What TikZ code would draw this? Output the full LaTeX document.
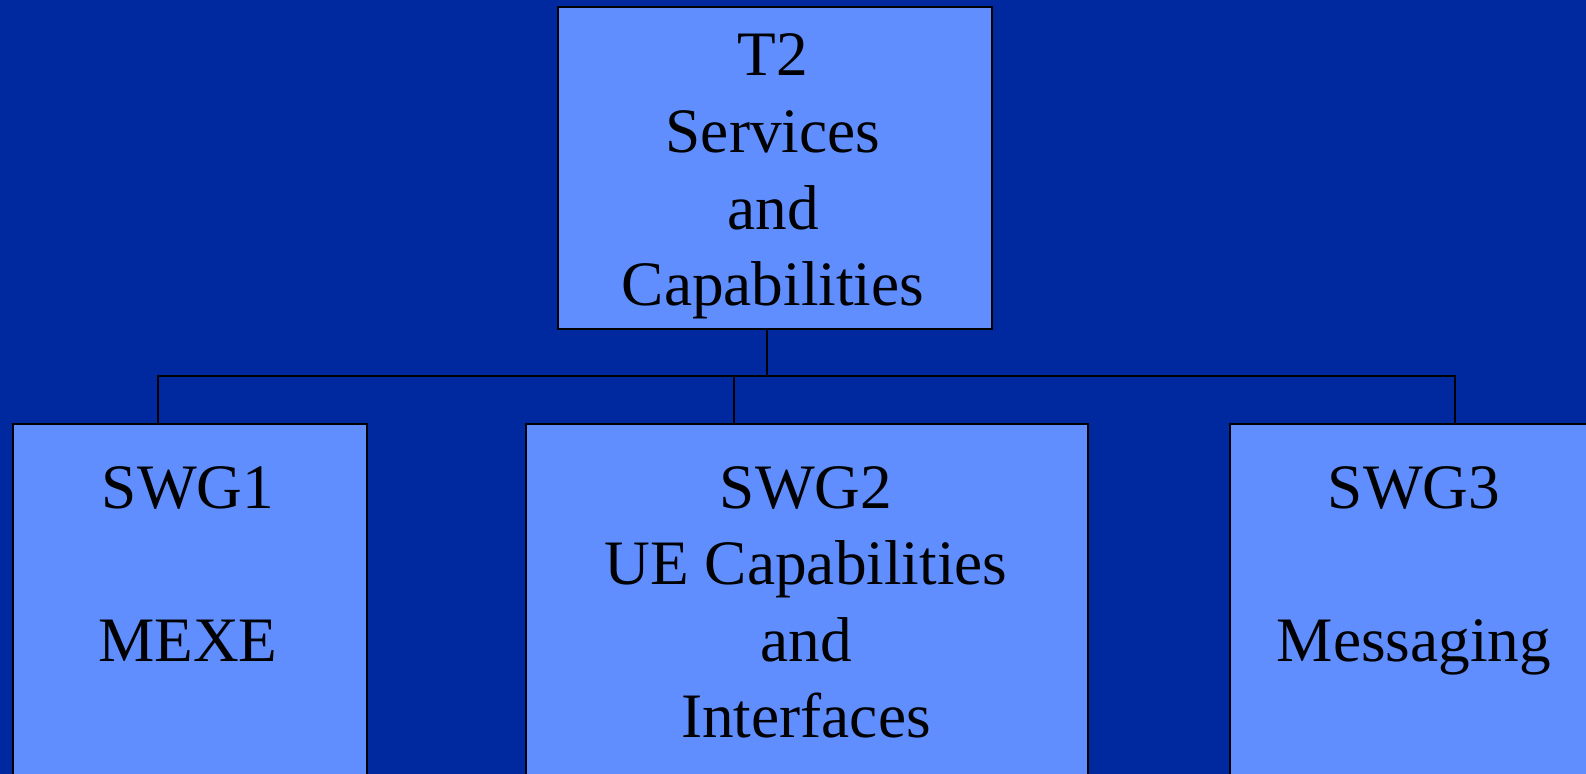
\documentclass[tikz,border=0pt]{standalone}
\usepackage{fontspec}
\setmainfont{Liberation Serif}

\definecolor{Back}{HTML}{0029A0}
\definecolor{BoxFill}{HTML}{608EFF}

\begin{document}
\begin{tikzpicture}[x=0.01cm, y=-0.01cm,
  box/.style={draw=black, fill=BoxFill, line width=0.5pt, rectangle, inner sep=0pt},
  lbl/.style={align=center, anchor=base, inner sep=0pt, font=\fontsize{18}{21.8}\selectfont}]

 %%%%%%%%%% Background %%%%%%%%%%
 \useasboundingbox (0,0) rectangle (1586,774);
 \fill [Back] (0,0) rectangle (1586,774);
 \clip (0,0) rectangle (1586,774);

 %%%%%%%%%% Points for the bus %%%%%%%%%%
 \coordinate (busT) at (767,376);
 \coordinate (bus1) at (158,376);
 \coordinate (bus2) at (734,376);
 \coordinate (bus3) at (1455,376);

 %%%%%%%%%% Boxes %%%%%%%%%%
 \node [box, minimum width=4.34cm, minimum height=3.22cm] (t2) at (775,168) {};
 \node [box, minimum width=3.54cm, minimum height=3.8cm] (swg1) at (190,614) {};
 \node [box, minimum width=5.62cm, minimum height=3.8cm] (swg2) at (807,614) {};
 \node [box, minimum width=3.68cm, minimum height=3.8cm] (swg3) at (1414,614) {};

 %%%%%%%%%% Texts (anchored on the last line) %%%%%%%%%%
 \node [lbl] (t2txt) at (773,306) {T2\\Services\\and\\Capabilities};
 \node [lbl] (swg1txt) at (188,662) {SWG1\\~\\MEXE};
 \node [lbl] (swg2txt) at (806,738) {SWG2\\UE Capabilities\\and\\Interfaces};
 \node [lbl] (swg3txt) at (1414,662) {SWG3\\~\\Messaging};

 %%%%%%%%%% Connectors %%%%%%%%%%
 \draw [line width=0.5pt] (t2.south -| busT) -- (busT);
 \draw [line width=0.5pt] (bus1 |- swg1.north) -- (bus1) -- (bus3) -- (bus3 |- swg3.north);
 \draw [line width=0.5pt] (bus2) -- (bus2 |- swg2.north);

\end{tikzpicture}
\end{document}
